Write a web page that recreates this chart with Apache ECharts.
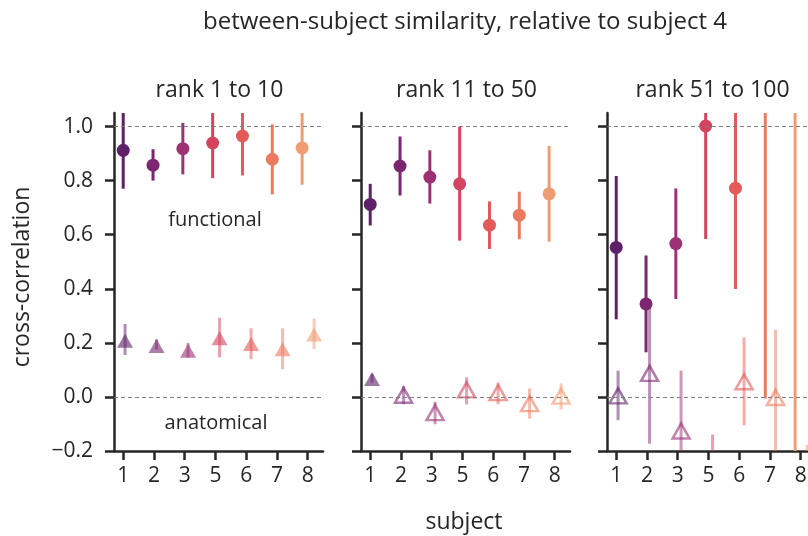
<!DOCTYPE html>
<html>
<head>
<meta charset="utf-8">
<script src="https://cdn.jsdelivr.net/npm/echarts@6/dist/echarts.min.js"></script>
<style>
  html, body { margin: 0; padding: 0; background: #fff; }
  #chart { width: 808px; height: 536px; }
</style>
</head>
<body>
<div id="chart"></div>
<script>
// Subjects compared against subject 4, one panel per rank band
const subjects = ['1', '2', '3', '5', '6', '7', '8'];
const panelTitles = ['rank 1 to 10', 'rank 11 to 50', 'rank 51 to 100'];
const yTicks = [-0.2, 0.0, 0.2, 0.4, 0.6, 0.8, 1.0];
const subjectColors = ['#5e2068', '#7c2570', '#9d3174', '#d4445f', '#e35a58', '#ec7a5e', '#f09c72'];

// rank 1 to 10
const funcMean1 = [0.912, 0.857, 0.918, 0.939, 0.965, 0.879, 0.921];
const funcLow1  = [0.770, 0.800, 0.823, 0.809, 0.819, 0.749, 0.785];
const funcHigh1 = [1.060, 0.916, 1.013, 1.070, 1.110, 1.008, 1.060];
const anatMean1 = [0.208, 0.188, 0.171, 0.217, 0.196, 0.176, 0.231];
const anatLow1  = [0.155, 0.176, 0.145, 0.146, 0.140, 0.102, 0.177];
const anatHigh1 = [0.270, 0.213, 0.200, 0.293, 0.254, 0.254, 0.290];
const anatFilled1 = [true, true, true, true, true, true, true];

// rank 11 to 50
const funcMean2 = [0.712, 0.854, 0.813, 0.788, 0.635, 0.672, 0.751];
const funcLow2  = [0.634, 0.745, 0.715, 0.578, 0.547, 0.583, 0.574];
const funcHigh2 = [0.788, 0.963, 0.912, 0.999, 0.723, 0.759, 0.928];
const anatMean2 = [0.066, 0.006, -0.058, 0.026, 0.016, -0.025, 0.003];
const anatLow2  = [0.053, -0.027, -0.101, -0.028, -0.027, -0.080, -0.047];
const anatHigh2 = [0.085, 0.040, -0.018, 0.072, 0.053, 0.031, 0.050];
const anatFilled2 = [true, false, false, false, false, false, false];

// rank 51 to 100
const funcMean3 = [0.553, 0.344, 0.567, 1.002, 0.772, 1.300, 1.250];
const funcLow3  = [0.287, 0.165, 0.362, 0.584, 0.399, -0.006, -0.300];
const funcHigh3 = [0.817, 0.523, 0.771, 1.420, 1.150, 2.600, 2.800];
const anatMean3 = [0.004, 0.087, -0.126, -0.350, 0.056, -0.002, -0.400];
const anatLow3  = [-0.086, -0.173, -0.350, -0.560, -0.105, -0.250, -0.620];
const anatHigh3 = [0.097, 0.347, 0.097, -0.139, 0.220, 0.248, -0.177];
const anatFilled3 = [false, false, false, false, false, false, false];

const panels = [
  { func: [funcMean1, funcLow1, funcHigh1], anat: [anatMean1, anatLow1, anatHigh1], filled: anatFilled1 },
  { func: [funcMean2, funcLow2, funcHigh2], anat: [anatMean2, anatLow2, anatHigh2], filled: anatFilled2 },
  { func: [funcMean3, funcLow3, funcHigh3], anat: [anatMean3, anatLow3, anatHigh3], filled: anatFilled3 }
];

const FONT = '"Open Sans", Lato, sans-serif';
const INK = '#262626';
const gridLefts = [114, 361, 607];
const GRID_W = 209, GRID_TOP = 113, GRID_H = 338;

// dodge the two measures apart around each subject position
const funcX = i => i * 0.97;
const anatX = i => 0.06 + i * 1.025;

function errorBars(panelIdx, xs, lows, highs, opacity, name) {
  return {
    type: 'custom', name: name, xAxisIndex: panelIdx, yAxisIndex: panelIdx,
    clip: true, silent: true, z: 2,
    data: lows.map((lo, i) => [xs(i), lo, highs[i]]),
    renderItem: function (params, api) {
      const p1 = api.coord([api.value(0), api.value(1)]);
      const p2 = api.coord([api.value(0), api.value(2)]);
      return {
        type: 'line',
        shape: { x1: p1[0], y1: p1[1], x2: p2[0], y2: p2[1] },
        style: { stroke: subjectColors[params.dataIndex], lineWidth: 3, opacity: opacity }
      };
    }
  };
}

const grid = [], xAxis = [], yAxis = [], series = [], title = [];
const axisLineStyle = { color: INK, width: 2.5 };
const tickStyle = { color: INK, width: 2.5 };

panels.forEach((p, k) => {
  grid.push({ left: gridLefts[k], top: GRID_TOP, width: GRID_W, height: GRID_H, outerBoundsMode: 'none', containLabel: false });
  xAxis.push({
    gridIndex: k, type: 'value', min: -0.3, max: 6.5,
    splitLine: { show: false },
    axisLine: { onZero: false, lineStyle: axisLineStyle },
    axisTick: { show: true, customValues: subjects.map((s, i) => i), length: 9, lineStyle: tickStyle },
    axisLabel: {
      customValues: subjects.map((s, i) => i),
      formatter: v => subjects[Math.round(v)] || '',
      color: INK, fontFamily: FONT, fontSize: 21, margin: 15
    }
  });
  yAxis.push({
    gridIndex: k, type: 'value', min: -0.2, max: 1.05,
    splitLine: { show: false },
    axisLine: { show: true, onZero: false, lineStyle: axisLineStyle },
    axisTick: { show: true, customValues: yTicks, length: 9, lineStyle: tickStyle },
    axisLabel: {
      show: k === 0, customValues: yTicks,
      formatter: v => (v < 0 ? '\u2212' : '') + Math.abs(v).toFixed(1),
      color: INK, fontFamily: FONT, fontSize: 21, margin: 21
    }
  });
  title.push({
    text: panelTitles[k], left: gridLefts[k] + GRID_W / 2 - 4, top: 74, textAlign: 'center',
    textStyle: { color: INK, fontFamily: FONT, fontSize: 23, fontWeight: 'normal' }
  });

  // anatomical: translucent triangles
  series.push(errorBars(k, anatX, p.anat[1], p.anat[2], 0.5, 'anatomical-err'));
  series.push({
    type: 'scatter', name: 'anatomical', xAxisIndex: k, yAxisIndex: k, clip: true, z: 3,
    symbol: 'triangle',
    data: p.anat[0].map((v, i) => ({
      value: [anatX(i), v],
      symbolSize: p.filled[i] ? [16, 14] : [17, 15],
      itemStyle: p.filled[i]
        ? { color: subjectColors[i], opacity: 0.6 }
        : { color: 'rgba(0,0,0,0)', borderColor: subjectColors[i], borderWidth: 2.5, opacity: 0.6 }
    })),
    markLine: {
      silent: true, symbol: 'none', label: { show: false },
      lineStyle: { color: '#7f7f7f', type: [4, 3], width: 1 },
      data: [{ yAxis: 1.0 }, { yAxis: 0.0 }]
    }
  });

  // functional: solid circles
  series.push(errorBars(k, funcX, p.func[1], p.func[2], 1, 'functional-err'));
  series.push({
    type: 'scatter', name: 'functional', xAxisIndex: k, yAxisIndex: k, clip: true, z: 4,
    symbol: 'circle', symbolSize: 13,
    data: p.func[0].map((v, i) => ({ value: [funcX(i), v], itemStyle: { color: subjectColors[i], opacity: 1 } }))
  });
});

title.push({
  text: 'between-subject similarity, relative to subject 4', left: 460, top: 5, textAlign: 'center',
  textStyle: { color: INK, fontFamily: FONT, fontSize: 24, fontWeight: 'normal' }
});

const chart = echarts.init(document.getElementById('chart'), null, { renderer: 'canvas' });
chart.setOption({
  animation: false,
  backgroundColor: '#ffffff',
  title: title,
  grid: grid,
  xAxis: xAxis,
  yAxis: yAxis,
  series: series,
  graphic: [
    { type: 'text', x: 22, y: 277, rotation: Math.PI / 2,
      style: { text: 'cross-correlation', fill: INK, font: '23px ' + FONT, textAlign: 'center', textVerticalAlign: 'middle' } },
    { type: 'text', x: 464, y: 522,
      style: { text: 'subject', fill: INK, font: '23px ' + FONT, textAlign: 'center', textVerticalAlign: 'middle' } },
    { type: 'text', x: 215, y: 220,
      style: { text: 'functional', fill: INK, font: '20px ' + FONT, textAlign: 'center', textVerticalAlign: 'middle' } },
    { type: 'text', x: 216, y: 423,
      style: { text: 'anatomical', fill: INK, font: '20px ' + FONT, textAlign: 'center', textVerticalAlign: 'middle' } }
  ]
});
</script>
</body>
</html>
